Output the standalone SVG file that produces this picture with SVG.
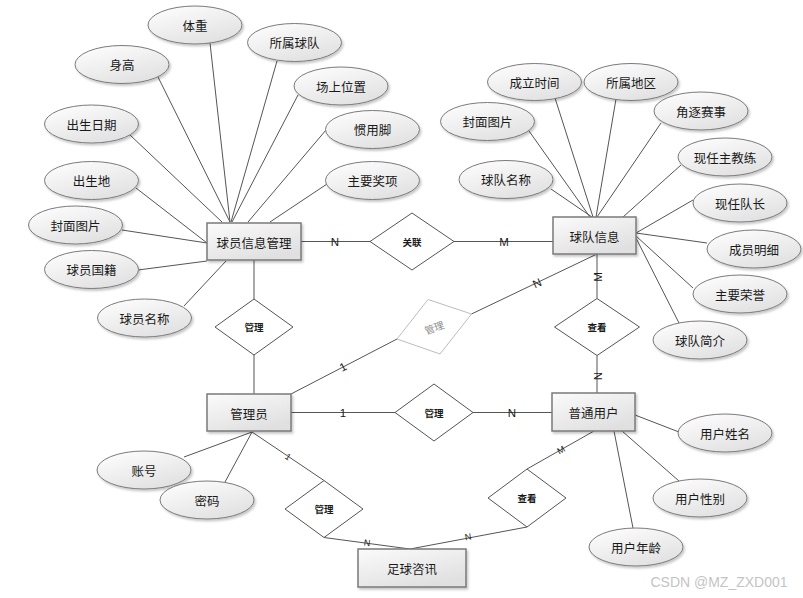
<svg xmlns="http://www.w3.org/2000/svg" width="803" height="598" viewBox="0 0 803 598">
<defs>
<linearGradient id="eg" x1="0" y1="0" x2="0.6" y2="1">
<stop offset="0" stop-color="#ffffff"/>
<stop offset="1" stop-color="#e2e2e2"/>
</linearGradient>
<linearGradient id="rg" x1="0" y1="0" x2="0.6" y2="1">
<stop offset="0" stop-color="#fbfbfb"/>
<stop offset="1" stop-color="#e0e0e0"/>
</linearGradient>
<filter id="sh" x="-20%" y="-20%" width="140%" height="150%">
<feDropShadow dx="1.5" dy="2" stdDeviation="1.2" flood-color="#000" flood-opacity="0.22"/>
</filter>
</defs>
<style>
.a ellipse{fill:url(#eg);stroke:#7a7a7a;stroke-width:1;filter:url(#sh)}
.e rect{fill:url(#rg);stroke:#7a7a7a;stroke-width:1.5;filter:url(#sh)}
.r polygon{fill:#ffffff;stroke:#555;stroke-width:1}
.g polygon{fill:#ffffff;stroke:#bdbdbd;stroke-width:1}
text{font-family:"Noto Sans CJK SC","Liberation Sans",sans-serif;fill:#1a1a1a;text-anchor:middle;dominant-baseline:central}
.a text,.e text{font-size:12.5px}
.r text{font-size:9.5px;font-weight:600}
.g text{font-size:10px;fill:#8a8a8a}
.lab{font-family:"Liberation Sans",sans-serif;font-size:11.5px}
.sl{font-family:"Liberation Sans",sans-serif;font-size:9px}
#edges path{stroke:#555;stroke-width:1;fill:none}
.wm{font-family:"Liberation Sans",sans-serif;font-size:14px;fill:#c4c4c4}
</style>
<rect width="803" height="598" fill="#ffffff"/>
<g id="edges">
<path d="M130,135 L222,222"/>
<path d="M158,77 L230,222"/>
<path d="M210,43 L230,222"/>
<path d="M277,61 L231,222"/>
<path d="M298,95 L232,222"/>
<path d="M326,130 L248,222"/>
<path d="M327,184 L270,222"/>
<path d="M136,188 L207,243"/>
<path d="M122,230 L207,243"/>
<path d="M138,270 L207,261"/>
<path d="M184,306 L226,261"/>
<path d="M301,241.5 L370,241.5"/>
<path d="M454,241.5 L553,241.5"/>
<path d="M551,189 L592,217"/>
<path d="M529,131 L590,217"/>
<path d="M555,98 L593,217"/>
<path d="M616,99 L596,217"/>
<path d="M661,123 L597,217"/>
<path d="M681,165 L623,217"/>
<path d="M693,200 L636,233"/>
<path d="M707,243 L636,233"/>
<path d="M693,288 L636,236"/>
<path d="M679,323 L636,238"/>
<path d="M597,254 L597,298.5"/>
<path d="M597,355.5 L597,393"/>
<path d="M254,260 L254,299"/>
<path d="M254,355 L254,394"/>
<path d="M291,394 L397,339"/>
<path d="M471.5,314 L597,254"/>
<path d="M291,412.5 L395,412.5"/>
<path d="M473,412.5 L552,412.5"/>
<path d="M252,432 L184,457"/>
<path d="M252,432 L225,482"/>
<path d="M252,432 L324,480.5"/>
<path d="M324,537.5 L410,549"/>
<path d="M594,431 L527,469"/>
<path d="M527,527 L410,549"/>
<path d="M635,415 L679,432"/>
<path d="M622,431 L679,481"/>
<path d="M614,431 L633,528"/>
</g>
<g id="labels">
<text class="lab" x="335" y="242">N</text>
<text class="lab" x="504" y="242">M</text>
<text class="lab" x="537" y="283" transform="rotate(-25 537 283)">N</text>
<text class="lab" x="598" y="277" transform="rotate(-90 598 277)">M</text>
<text class="lab" x="598" y="376" transform="rotate(-90 598 376)">N</text>
<text class="lab" x="343" y="413">1</text>
<text class="lab" x="512" y="413">N</text>
<text class="lab" x="343" y="367" transform="rotate(-27 343 367)">1</text>
<text class="sl" x="288" y="457" transform="rotate(34 288 457)">1</text>
<text class="sl" x="367" y="543" transform="rotate(7 367 543)">N</text>
<text class="sl" x="561" y="450" transform="rotate(-29 561 450)">M</text>
<text class="sl" x="468" y="537" transform="rotate(-11 468 537)">N</text>
</g>
<g id="rel-guanlian" class="r"><polygon points="370,241.5 412,213 454,241.5 412,270"/><text x="412" y="242">关联</text></g>
<g id="rel-guanli1" class="r"><polygon points="215,327 254,299 293,327 254,355"/><text x="254" y="327">管理</text></g>
<g id="rel-guanli2" class="r"><polygon points="395,412.5 434,384 473,412.5 434,441"/><text x="434" y="413">管理</text></g>
<g id="rel-chakan1" class="r"><polygon points="554.5,327 597,298.5 639.5,327 597,355.5"/><text x="597" y="327">查看</text></g>
<g id="rel-guanli3" class="r"><polygon points="285,509 324,480.5 363,509 324,537.5"/><text x="324" y="509">管理</text></g>
<g id="rel-chakan2" class="r"><polygon points="488,498 527,469 566,498 527,527"/><text x="527" y="498">查看</text></g>
<g id="rel-guanli-gray" class="g"><polygon points="397,339 428,299.5 471.5,314 440,354"/><text x="434" y="327" transform="rotate(-20 434 327)">管理</text></g>
<g id="ent-player" class="e"><rect x="207" y="223" width="94" height="37"/><text x="254" y="242">球员信息管理</text></g>
<g id="ent-team" class="e"><rect x="553" y="217" width="83" height="37"/><text x="594.5" y="236">球队信息</text></g>
<g id="ent-admin" class="e"><rect x="207" y="394" width="84" height="37"/><text x="249" y="413">管理员</text></g>
<g id="ent-user" class="e"><rect x="552" y="393" width="83" height="38"/><text x="593.5" y="412.5">普通用户</text></g>
<g id="ent-news" class="e"><rect x="358" y="549" width="108" height="38"/><text x="412" y="568.5">足球咨讯</text></g>
<g id="a-tizhong" class="a"><ellipse cx="195" cy="25" rx="47" ry="19"/><text x="195" y="25">体重</text></g>
<g id="a-shengao" class="a"><ellipse cx="122" cy="64.5" rx="47" ry="19"/><text x="122" y="64.5">身高</text></g>
<g id="a-suoshuqiudui" class="a"><ellipse cx="294.5" cy="42.5" rx="47" ry="19"/><text x="294.5" y="42.5">所属球队</text></g>
<g id="a-changshangweizhi" class="a"><ellipse cx="341" cy="86" rx="47" ry="19"/><text x="341" y="86">场上位置</text></g>
<g id="a-guanyongjiao" class="a"><ellipse cx="372.5" cy="129.5" rx="47" ry="19"/><text x="372.5" y="129.5">惯用脚</text></g>
<g id="a-zhuyaojiangxiang" class="a"><ellipse cx="372.5" cy="180.5" rx="47" ry="19"/><text x="372.5" y="180.5">主要奖项</text></g>
<g id="a-chushengriqi" class="a"><ellipse cx="91.5" cy="124" rx="47" ry="19"/><text x="91.5" y="124">出生日期</text></g>
<g id="a-chushengdi" class="a"><ellipse cx="91.5" cy="180.5" rx="47" ry="19"/><text x="91.5" y="180.5">出生地</text></g>
<g id="a-fengmian1" class="a"><ellipse cx="75.5" cy="225" rx="47" ry="19"/><text x="75.5" y="225">封面图片</text></g>
<g id="a-guoji" class="a"><ellipse cx="91.5" cy="269.5" rx="47" ry="19"/><text x="91.5" y="269.5">球员国籍</text></g>
<g id="a-qiuyuanmingcheng" class="a"><ellipse cx="144.5" cy="318" rx="47" ry="19"/><text x="144.5" y="318">球员名称</text></g>
<g id="a-chenglishijian" class="a"><ellipse cx="534.5" cy="82" rx="47" ry="18.5"/><text x="534.5" y="82">成立时间</text></g>
<g id="a-suoshudiqu" class="a"><ellipse cx="631" cy="82" rx="47" ry="18.5"/><text x="631" y="82">所属地区</text></g>
<g id="a-jiaozhusaishi" class="a"><ellipse cx="701" cy="111" rx="47" ry="19"/><text x="701" y="111">角逐赛事</text></g>
<g id="a-zhujiaolian" class="a"><ellipse cx="725" cy="157" rx="47" ry="19"/><text x="725" y="157">现任主教练</text></g>
<g id="a-duizhang" class="a"><ellipse cx="740" cy="203" rx="47" ry="19"/><text x="740" y="203">现任队长</text></g>
<g id="a-chengyuan" class="a"><ellipse cx="754" cy="249" rx="47" ry="19"/><text x="754" y="249">成员明细</text></g>
<g id="a-rongyu" class="a"><ellipse cx="740" cy="294" rx="47" ry="19"/><text x="740" y="294">主要荣誉</text></g>
<g id="a-jianjie" class="a"><ellipse cx="700" cy="340" rx="47" ry="19"/><text x="700" y="340">球队简介</text></g>
<g id="a-fengmian2" class="a"><ellipse cx="487.5" cy="121.5" rx="47" ry="19"/><text x="487.5" y="121.5">封面图片</text></g>
<g id="a-qiuduimingcheng" class="a"><ellipse cx="506" cy="179.5" rx="47" ry="19"/><text x="506" y="179.5">球队名称</text></g>
<g id="a-zhanghao" class="a"><ellipse cx="144" cy="470" rx="47" ry="19"/><text x="144" y="470">账号</text></g>
<g id="a-mima" class="a"><ellipse cx="207" cy="500" rx="47" ry="19"/><text x="207" y="500">密码</text></g>
<g id="a-xingming" class="a"><ellipse cx="725" cy="433" rx="47" ry="19"/><text x="725" y="433">用户姓名</text></g>
<g id="a-xingbie" class="a"><ellipse cx="700" cy="498" rx="47" ry="19"/><text x="700" y="498">用户性别</text></g>
<g id="a-nianling" class="a"><ellipse cx="636" cy="547" rx="47" ry="19"/><text x="636" y="547">用户年龄</text></g>
<text class="wm" x="719" y="582" textLength="137" lengthAdjust="spacingAndGlyphs">CSDN @MZ_ZXD001</text>
</svg>
